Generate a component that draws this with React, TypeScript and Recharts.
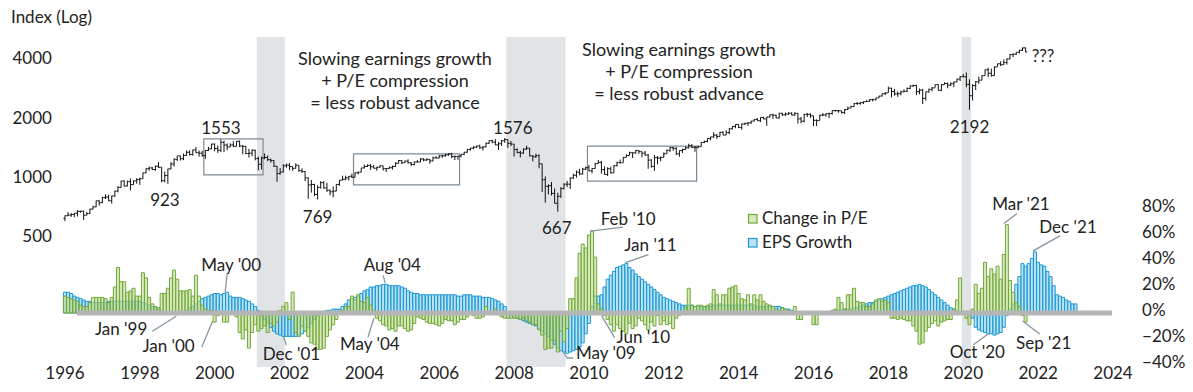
import React from 'react';
import {
  ComposedChart,
  Bar,
  XAxis,
  YAxis,
  ReferenceArea,
  ReferenceLine,
  ReferenceDot,
} from 'recharts';

// S&P 500 monthly bars, Jan 1996 - Sep 2021 (open = previous month's close)
const spxDec1995Close = 615.9;
const spxClose = [
  636.0, 640.4, 645.5, 654.2, 669.1, 670.6, 639.9, 652.0, 687.3, 705.3, 757.0, 740.7,
  786.2, 790.8, 757.1, 801.3, 848.3, 885.1, 954.3, 899.5, 947.3, 914.6, 955.4, 970.4,
  980.3, 1049.3, 1101.8, 1111.8, 1090.8, 1133.8, 1120.7, 957.3, 1017.0, 1098.7, 1163.6, 1229.2,
  1279.6, 1238.3, 1286.4, 1335.2, 1301.8, 1372.7, 1328.7, 1320.4, 1282.7, 1362.9, 1388.9, 1469.3,
  1394.5, 1366.4, 1498.6, 1452.4, 1420.6, 1454.6, 1430.8, 1517.7, 1436.5, 1429.4, 1315.2, 1320.3,
  1366.0, 1239.9, 1160.3, 1249.5, 1255.8, 1224.4, 1211.2, 1133.6, 1040.9, 1059.8, 1139.5, 1148.1,
  1130.2, 1106.7, 1147.4, 1076.9, 1067.1, 989.8, 911.6, 916.1, 815.3, 885.8, 936.3, 879.8,
  855.7, 841.2, 848.2, 916.9, 963.6, 974.5, 990.3, 1008.0, 996.0, 1050.7, 1058.2, 1111.9,
  1131.1, 1144.9, 1126.2, 1107.3, 1120.7, 1140.8, 1101.7, 1104.2, 1114.6, 1130.2, 1173.8, 1211.9,
  1181.3, 1203.6, 1180.6, 1156.9, 1191.5, 1191.3, 1234.2, 1220.3, 1228.8, 1207.0, 1249.5, 1248.3,
  1280.1, 1280.7, 1294.8, 1310.6, 1270.1, 1270.2, 1276.7, 1303.8, 1335.9, 1377.9, 1400.6, 1418.3,
  1438.2, 1406.8, 1420.9, 1482.4, 1530.6, 1503.4, 1455.3, 1474.0, 1526.8, 1549.4, 1481.1, 1468.4,
  1378.6, 1330.6, 1322.7, 1385.6, 1400.4, 1280.0, 1267.4, 1282.8, 1166.4, 968.8, 896.2, 903.3,
  825.9, 735.1, 797.9, 872.8, 919.1, 919.3, 987.5, 1020.6, 1057.1, 1036.2, 1095.6, 1115.1,
  1073.9, 1104.5, 1169.4, 1186.7, 1089.4, 1030.7, 1101.6, 1049.3, 1141.2, 1183.3, 1180.6, 1257.6,
  1286.1, 1327.2, 1325.8, 1363.6, 1345.2, 1320.6, 1292.3, 1218.9, 1131.4, 1253.3, 1247.0, 1257.6,
  1312.4, 1365.7, 1408.5, 1397.9, 1310.3, 1362.2, 1379.3, 1406.6, 1440.7, 1412.2, 1416.2, 1426.2,
  1498.1, 1514.7, 1569.2, 1597.6, 1630.7, 1606.3, 1685.7, 1633.0, 1681.6, 1756.5, 1805.8, 1848.4,
  1782.6, 1859.5, 1872.3, 1883.9, 1923.6, 1960.2, 1930.7, 2003.4, 1972.3, 2018.1, 2067.6, 2058.9,
  1995.0, 2104.5, 2067.9, 2085.5, 2107.4, 2063.1, 2104.0, 1972.2, 1920.0, 2079.4, 2080.4, 2043.9,
  1940.2, 1932.2, 2059.7, 2065.3, 2096.9, 2098.9, 2173.6, 2170.9, 2168.3, 2126.2, 2199.0, 2238.8,
  2278.9, 2363.6, 2362.7, 2384.2, 2411.8, 2423.4, 2470.3, 2471.7, 2519.4, 2575.3, 2647.6, 2673.6,
  2823.8, 2713.8, 2640.9, 2648.1, 2705.3, 2718.4, 2816.3, 2901.5, 2914.0, 2711.7, 2760.2, 2506.9,
  2704.1, 2784.5, 2834.4, 2945.8, 2752.1, 2941.8, 2980.4, 2926.5, 2976.7, 3037.6, 3141.0, 3230.8,
  3225.5, 2954.2, 2584.6, 2912.4, 3044.3, 3100.3, 3271.1, 3500.3, 3363.0, 3270.0, 3621.6, 3756.1,
  3714.2, 3811.2, 3972.9, 4181.2, 4204.1, 4297.5, 4395.3, 4522.7, 4307.5,
];
const spxHigh = [
  636, 664, 656, 657, 680, 673, 675, 665, 690, 714, 758, 761,
  794, 817, 814, 804, 851, 899, 957, 961, 960, 983, 960, 986,
  992, 1050, 1106, 1130, 1122, 1141, 1190, 1122, 1066, 1102, 1193, 1245,
  1280, 1284, 1316, 1362, 1368, 1376, 1421, 1363, 1358, 1373, 1423, 1474,
  1479, 1445, 1553, 1528, 1481, 1482, 1518, 1520, 1531, 1455, 1439, 1390,
  1383, 1377, 1268, 1269, 1316, 1287, 1239, 1218, 1135, 1110, 1163, 1173,
  1176, 1131, 1173, 1147, 1106, 1070, 994, 965, 924, 907, 952, 954,
  935, 864, 895, 919, 965, 1015, 1016, 1011, 1040, 1054, 1063, 1112,
  1155, 1159, 1163, 1150, 1128, 1146, 1141, 1109, 1132, 1143, 1188, 1218,
  1217, 1212, 1229, 1192, 1200, 1219, 1246, 1245, 1243, 1234, 1270, 1276,
  1295, 1297, 1310, 1318, 1326, 1285, 1280, 1306, 1340, 1389, 1407, 1431,
  1441, 1461, 1438, 1498, 1535, 1541, 1556, 1503, 1539, 1576, 1553, 1524,
  1471, 1396, 1359, 1397, 1440, 1404, 1292, 1314, 1304, 1167, 1007, 919,
  944, 875, 832, 888, 930, 956, 996, 1040, 1080, 1101, 1113, 1130,
  1150, 1112, 1180, 1220, 1205, 1132, 1120, 1129, 1148, 1196, 1227, 1263,
  1303, 1344, 1332, 1369, 1371, 1346, 1357, 1308, 1230, 1293, 1277, 1269,
  1334, 1378, 1420, 1422, 1416, 1364, 1392, 1426, 1475, 1470, 1434, 1448,
  1504, 1530, 1570, 1598, 1687, 1654, 1698, 1709, 1730, 1775, 1813, 1849,
  1850, 1867, 1884, 1897, 1925, 1968, 1991, 2005, 2019, 2019, 2075, 2094,
  2072, 2120, 2118, 2126, 2135, 2130, 2133, 2113, 2021, 2094, 2116, 2105,
  2045, 1963, 2073, 2111, 2103, 2121, 2178, 2194, 2188, 2169, 2214, 2278,
  2301, 2371, 2401, 2398, 2419, 2454, 2484, 2491, 2520, 2582, 2658, 2695,
  2873, 2835, 2801, 2718, 2742, 2791, 2848, 2916, 2941, 2940, 2816, 2800,
  2708, 2813, 2861, 2950, 2954, 2965, 3028, 3014, 3022, 3050, 3154, 3248,
  3338, 3394, 3136, 2955, 3068, 3233, 3280, 3514, 3588, 3550, 3646, 3760,
  3870, 3950, 3995, 4219, 4238, 4302, 4429, 4538, 4546,
];
const spxLow = [
  597, 633, 627, 625, 631, 658, 605, 639, 649, 685, 703, 716,
  737, 773, 756, 733, 793, 836, 884, 893, 896, 855, 914, 925,
  912, 979, 1046, 1076, 1084, 1075, 1114, 940, 939, 923, 1094, 1130,
  1205, 1212, 1218, 1283, 1287, 1282, 1328, 1268, 1268, 1234, 1354, 1386,
  1350, 1326, 1339, 1339, 1366, 1420, 1417, 1431, 1419, 1305, 1307, 1255,
  1274, 1215, 1081, 1091, 1232, 1203, 1183, 1124, 945, 1026, 1054, 1114,
  1081, 1074, 1106, 1063, 1048, 953, 775, 833, 800, 769, 872, 872,
  840, 806, 789, 847, 902, 963, 962, 960, 990, 995, 1031, 1058,
  1106, 1124, 1087, 1107, 1076, 1113, 1078, 1060, 1102, 1091, 1128, 1173,
  1164, 1180, 1171, 1137, 1147, 1188, 1192, 1201, 1205, 1168, 1201, 1246,
  1245, 1253, 1268, 1280, 1245, 1219, 1224, 1261, 1290, 1327, 1361, 1385,
  1403, 1389, 1364, 1416, 1476, 1484, 1452, 1371, 1439, 1490, 1406, 1435,
  1270, 1317, 1257, 1313, 1373, 1272, 1200, 1248, 1107, 840, 741, 815,
  805, 735, 667, 783, 866, 888, 869, 979, 992, 1020, 1029, 1085,
  1071, 1045, 1105, 1170, 1040, 1028, 1011, 1040, 1049, 1131, 1174, 1186,
  1257, 1289, 1249, 1312, 1311, 1259, 1283, 1101, 1114, 1075, 1158, 1202,
  1259, 1312, 1341, 1357, 1291, 1266, 1325, 1378, 1396, 1403, 1343, 1398,
  1426, 1485, 1501, 1536, 1581, 1560, 1605, 1627, 1633, 1646, 1746, 1768,
  1771, 1738, 1834, 1815, 1860, 1915, 1930, 1904, 1964, 1821, 2001, 1973,
  1988, 1981, 2040, 2048, 2067, 2056, 2044, 1867, 1872, 1893, 2019, 1993,
  1812, 1810, 1938, 2034, 2025, 1992, 2074, 2148, 2119, 2097, 2084, 2187,
  2245, 2271, 2322, 2328, 2348, 2405, 2407, 2418, 2446, 2520, 2566, 2605,
  2683, 2533, 2586, 2553, 2594, 2698, 2699, 2796, 2864, 2603, 2631, 2347,
  2444, 2681, 2722, 2848, 2750, 2729, 2952, 2822, 2892, 2856, 3037, 3070,
  3214, 2855, 2192, 2447, 2767, 2966, 3101, 3280, 3210, 3234, 3268, 3633,
  3663, 3705, 3723, 3955, 4056, 4164, 4233, 4368, 4305,
];

// Year-over-year change in P/E, %, Jan 1996 - Sep 2021
const peChange = [
  13, 12, 11, 10, 9, 6, 5, 5, 8, 12, 12, 12,
  12, 11, 8, 12, 20, 35, 24, 24, 16, 17, 19, 13,
  13, 31, 27, 12, 7, 5, 4, 15, 15, 19, 27, 33,
  26, 17, 17, 17, 18, 13, 29, 13, 6, 3, 2, 2,
  -7, -2, 0, -7, -7, 1, 0, -3, -15, -20, -13, -27,
  -15, -9, -14, -12, -10, -15, -8, -10, -7, 2, 5, 8,
  -5, 16, -15, -18, -10, -14, -18, -23, -24, -28, -28, -27,
  -18, -13, -9, -5, 0, 2, 5, 5, 13, 10, 14, 9,
  8, 12, 6, 2, -4, -6, -9, -10, -13, -12, -14, -10,
  -10, -12, -14, -13, -8, -3, -4, -5, -7, -8, -8, -9,
  -10, -8, -5, -6, -6, -9, -7, -5, -5, -3, -1, -2,
  -4, -4, -3, 5, 0, 0, 3, 1, -3, -4, -4, -4,
  -4, -4, -5, -4, -6, -7, -9, -9, -13, -17, -28, -27,
  -27, -21, -30, -14, -22, -12, 11, 11, 27, 46, 53, 50,
  60, 63, 43, 7, 3, -2, -5, -9, -14, -9, -12, -14,
  -16, -8, -12, -10, -4, -6, -9, -13, -7, -10, -2, -9,
  -6, -9, -8, -12, -4, -2, -1, 4, 19, 6, 5, 6,
  6, 5, 6, 7, 18, 14, 7, 14, 14, 19, 20, 21,
  15, 11, 10, 14, 7, 14, 10, 14, 9, 7, 6, 5,
  3, 2, 4, 3, 2, 1, 5, -5, -5, 1, 0, -1,
  -9, -9, 0, 0, 1, 1, 2, 3, 12, 8, 3, 14,
  14, 19, 9, 8, 8, 5, 5, 7, 10, 11, 9, 10,
  8, -4, -4, -5, -4, -5, -6, -6, -10, -14, -24, -23,
  -14, -11, -8, -6, -10, -7, -6, -5, -5, 3, 10, 27,
  0, -4, -9, 3, 22, 15, 19, 39, 28, 34, 30, 36,
  26, 45, 68, 25, 16, 8, 5, -2, -7,
];

// Year-over-year EPS growth, %, Jan 1996 - Jan 2023
const epsGrowth = [
  16, 16, 15, 13, 12, 11, 10, 9, 9, 8, 8, 8,
  8, 8, 9, 9, 9, 9, 9, 9, 9, 9, 9, 9,
  9, 8, 7, 6, 5, 4, 3, 2, 1, 1, 0, -1,
  -1, 0, 1, 2, 4, 5, 7, 9, 11, 12, 13, 14,
  15, 15, 14, 15, 16, 13, 12, 12, 12, 11, 10, 9,
  7, 5, 2, -2, -5, -8, -11, -14, -16, -17, -18, -18,
  -18, -18, -18, -17, -16, -14, -11, -8, -5, -2, 1, 1,
  2, 2, 3, 3, 3, 5, 7, 10, 11, 12, 13, 15,
  17, 18, 20, 20, 21, 21, 22, 22, 21, 21, 21, 21,
  20, 19, 17, 16, 15, 15, 14, 14, 14, 14, 14, 14,
  14, 14, 14, 14, 14, 14, 13, 13, 14, 14, 14, 13,
  13, 13, 12, 12, 12, 11, 10, 9, 7, 5, 1, -2,
  -3, -4, -5, -6, -7, -8, -9, -10, -12, -14, -16, -18,
  -21, -24, -27, -29, -30, -31, -30, -29, -28, -26, -23, -16,
  -8, 5, 13, 13, 14, 20, 26, 29, 32, 35, 36, 37,
  38, 35, 33, 30, 28, 26, 24, 22, 20, 18, 16, 14,
  12, 11, 10, 9, 8, 7, 6, 6, 6, 6, 5, 5,
  5, 5, 5, 5, 6, 6, 6, 6, 6, 6, 6, 6,
  6, 6, 6, 6, 6, 6, 5, 5, 5, 5, 5, 5,
  5, 5, 4, 3, 3, 2, 1, 1, 0, 0, -1, -1,
  -1, -1, -1, 0, 0, 1, 1, 2, 2, 2, 3, 3,
  3, 4, 4, 5, 6, 7, 8, 8, 9, 10, 11, 12,
  13, 14, 15, 16, 17, 18, 19, 20, 21, 21, 22, 21,
  20, 18, 16, 14, 12, 10, 8, 6, 4, 3, 2, 1,
  0, -1, -2, -4, -11, -13, -14, -15, -16, -16, -17, -16,
  -15, -11, -2, 3, 7, 22, 28, 38, 36, 38, 42, 47,
  39, 37, 36, 32, 28, 21, 14, 13, 12, 10, 9, 7,
  7,
];

const yearTicks = [1996, 1998, 2000, 2002, 2004, 2006, 2008, 2010, 2012, 2014, 2016, 2018, 2020, 2022, 2024];
const indexTicks = [500, 1000, 2000, 4000];
const pctTicks = [-40, -20, 0, 20, 40, 60, 80];
const recessions = [
  ['2001-03', '2001-11'],
  ['2007-11', '2009-05'],
  ['2020-01', '2020-03'],
];
const boxes = [
  { from: '1999-10', to: '2001-04', lo: 1024, hi: 1560 },
  { from: '2003-10', to: '2006-07', lo: 911, hi: 1309 },
  { from: '2010-01', to: '2012-11', lo: 954, hi: 1436 },
];

const FIRST_YEAR = 1996;
const MONTHS = (2024 - FIRST_YEAR) * 12 + 1;
const monthKey = (k: number) =>
  `${FIRST_YEAR + Math.floor(k / 12)}-${String((k % 12) + 1).padStart(2, '0')}`;

const rows = Array.from({ length: MONTHS }, (_, k) => {
  const row: any = { month: monthKey(k) };
  if (k < spxClose.length) {
    row.o = k === 0 ? spxDec1995Close : spxClose[k - 1];
    row.h = spxHigh[k];
    row.l = spxLow[k];
    row.c = spxClose[k];
    row.range = [spxLow[k], spxHigh[k]];
  }
  if (k < peChange.length) row.pe = peChange[k];
  if (k < epsGrowth.length) row.eps = epsGrowth[k];
  return row;
});
const rowOf = (m: string) => rows.find((r) => r.month === m);

const levelNotes = [
  { month: '1998-10', field: 'l', tx: -3, ty: 16 },
  { month: '2000-03', field: 'h', tx: 0, ty: -11 },
  { month: '2002-10', field: 'l', tx: 0, ty: 18 },
  { month: '2007-10', field: 'h', tx: 8, ty: -10 },
  { month: '2009-03', field: 'l', tx: -1, ty: 16 },
  { month: '2020-03', field: 'l', tx: 0, ty: 17 },
  { month: '2021-09', field: 'c', tx: 6, ty: 4, text: '???', anchor: 'start' },
];

const barNotes = [
  { month: '1999-01', series: 'eps', text: "Jan '99", line: [[-1, 2], [-25, 17]], tx: -30, ty: 15, anchor: 'end' },
  { month: '2000-01', series: 'pe', text: "Jan '00", line: [[-2, -1], [-13, 25]], tx: -20, ty: 24, anchor: 'end' },
  { month: '2000-05', series: 'eps', text: "May '00", line: [[-2, 0], [0, -19]], tx: 4, ty: -27 },
  { month: '2001-12', series: 'eps', text: "Dec '01", line: [[-3, 0], [0, 9]], tx: 5, ty: 17.5 },
  { month: '2004-05', series: 'pe', text: "May '04", line: [[-3, 0], [-9, 19]], tx: -7, ty: 26 },
  { month: '2004-08', series: 'eps', text: "Aug '04", line: [[-1, -1], [-3, -9]], tx: 6, ty: -19 },
  { month: '2009-05', series: 'eps', text: "May '09", line: [[-2, -2], [3, 6], [9, 6]], tx: 12, ty: 1.5, anchor: 'start' },
  { month: '2010-02', series: 'pe', text: "Feb '10", line: [[-2, 0], [31, -4]], tx: 36, ty: -12 },
  { month: '2010-06', series: 'pe', text: "Jun '10", line: [[-3, 0], [10, 22]], tx: 12, ty: 21, anchor: 'start' },
  { month: '2011-01', series: 'eps', text: "Jan '11", line: [[-1, -1], [22, -9]], tx: 24, ty: -19 },
  { month: '2020-10', series: 'eps', text: "Oct '20", line: [[-3, 0], [-18, 11]], tx: -14, ty: 18 },
  { month: '2021-03', series: 'pe', text: "Mar '21", line: [[-3, -1], [10, -11]], tx: 14, ty: -21 },
  { month: '2021-09', series: 'pe', text: "Sep '21", line: [[-3, -1], [14, 12]], tx: 18, ty: 21 },
  { month: '2021-12', series: 'eps', text: "Dec '21", line: [[-2, -1], [25, -16]], tx: 33, ty: -25 },
];

const FONT = 'Lato, "Open Sans", sans-serif';
const INK = '#222';
const LEADER = '#8795a0';
const GREEN = '#72a83a';
const GREEN_FILL = '#bcd98f';
const BLUE = '#1a98d5';
const BLUE_FILL = '#8fd0ee';

function OhlcBar(props: any) {
  const { x, y, width, height, payload } = props;
  if (!payload || payload.h == null || !Number.isFinite(y) || !Number.isFinite(height)) return <g />;
  const top = Math.min(y, y + height);
  const bottom = Math.max(y, y + height);
  const span = Math.log(payload.h) - Math.log(payload.l);
  const at = (v: number) => top + ((Math.log(payload.h) - Math.log(v)) / span) * (bottom - top);
  const cx = x + width / 2;
  return (
    <g stroke="#111" strokeWidth={1}>
      <line x1={cx} x2={cx} y1={top} y2={bottom} />
      <line x1={cx - 1.5} x2={cx} y1={at(payload.o)} y2={at(payload.o)} />
      <line x1={cx} x2={cx + 1.5} y1={at(payload.c)} y2={at(payload.c)} />
    </g>
  );
}

function Level({ cx, cy, note, text }: any) {
  if (!Number.isFinite(cx) || !Number.isFinite(cy)) return <g />;
  return (
    <text x={cx + note.tx} y={cy + note.ty} dy="0.35em" textAnchor={note.anchor ?? 'middle'}
      fontSize={17} fontFamily={FONT} fill={INK}>
      {text}
    </text>
  );
}

function Callout({ cx, cy, note }: any) {
  if (!Number.isFinite(cx) || !Number.isFinite(cy)) return <g />;
  const pts = note.line.map(([dx, dy]: number[]) => `${cx + dx},${cy + dy}`).join(' ');
  return (
    <g>
      <polyline points={pts} fill="none" stroke={LEADER} strokeWidth={1.3} />
      <text x={cx + note.tx} y={cy + note.ty} dy="0.35em" textAnchor={note.anchor ?? 'middle'}
        fontSize={17} fontFamily={FONT} fill={INK}>
        {note.text}
      </text>
    </g>
  );
}

function ZeroLine(props: any) {
  const { x1, x2, y1 } = props;
  if (!Number.isFinite(x1) || !Number.isFinite(y1)) return <g />;
  return <line x1={x1 - 2.5} x2={x2 + 13.5} y1={y1} y2={y1} stroke="#b5b5b5" strokeWidth={5} />;
}

const yearKeys = yearTicks.map((y) => `${y}-01`);

export default function App() {
  return (
    <div style={{ position: 'relative', width: 1193, height: 392, fontFamily: FONT }}>
      <style>{'body{margin:0}'}</style>
      <ComposedChart
        width={1193}
        height={392}
        data={rows}
        margin={{ top: 37, right: 0, bottom: 0, left: 0 }}
        barCategoryGap={0}
        barGap={0}
      >
        <XAxis
          xAxisId="ohlc"
          dataKey="month"
          ticks={yearKeys}
          interval={0}
          height={25}
          tickSize={0}
          tickMargin={0}
          axisLine={false}
          tickLine={false}
          tick={(p: any) => (
            <text x={p.x} y={p.y + 12} textAnchor="middle" fontSize={17} fontFamily={FONT} fill={INK}>
              {String(p.payload.value).slice(0, 4)}
            </text>
          )}
        />
        <XAxis xAxisId="eps" dataKey="month" hide height={0} />
        <XAxis xAxisId="pe" dataKey="month" hide height={0} />
        <YAxis
          yAxisId="idx"
          orientation="left"
          scale="log"
          domain={[108.5, 5137]}
          allowDataOverflow
          ticks={indexTicks}
          width={63.44}
          tickSize={0}
          tickMargin={0}
          axisLine={false}
          tickLine={false}
          tick={(p: any) => (
            <text x={p.x - 11.5} y={p.y} dy="0.35em" textAnchor="end" fontSize={17} fontFamily={FONT} fill={INK}>
              {p.payload.value}
            </text>
          )}
        />
        <YAxis
          yAxisId="pct"
          orientation="right"
          type="number"
          domain={[-41.54, 212.3]}
          allowDataOverflow
          ticks={pctTicks}
          width={78.44}
          tickSize={0}
          tickMargin={0}
          axisLine={false}
          tickLine={false}
          tick={(p: any) => (
            <text x={p.x + 27.5} y={p.y - 3} dy="0.35em" textAnchor="start" fontSize={17} fontFamily={FONT} fill={INK}>
              {`${p.payload.value < 0 ? '\u2212' : ''}${Math.abs(p.payload.value)}%`}
            </text>
          )}
        />

        {recessions.map(([a, b]) => (
          <ReferenceArea key={a} xAxisId="ohlc" yAxisId="idx" x1={a} x2={b} fill="#e1e4e7" fillOpacity={1} stroke="none" />
        ))}
        {boxes.map((bx) => (
          <ReferenceArea key={bx.from} xAxisId="ohlc" yAxisId="idx" x1={bx.from} x2={bx.to} y1={bx.lo} y2={bx.hi}
            fill="none" stroke="#7d8b95" strokeWidth={1.2} />
        ))}

        <Bar xAxisId="eps" yAxisId="pct" dataKey="eps" fill={BLUE_FILL} fillOpacity={0.6} stroke={BLUE} strokeWidth={1} isAnimationActive={false} />
        <Bar xAxisId="pe" yAxisId="pct" dataKey="pe" fill={GREEN_FILL} fillOpacity={0.6} stroke={GREEN} strokeWidth={1} isAnimationActive={false} />
        <Bar xAxisId="ohlc" yAxisId="idx" dataKey="range" shape={(p: any) => <OhlcBar {...p} />} isAnimationActive={false} />

        <ReferenceLine xAxisId="pe" yAxisId="pct" y={0} stroke="#b5b5b5" strokeWidth={5} shape={(p: any) => <ZeroLine {...p} />} />

        {levelNotes.map((n) => {
          const v = rowOf(n.month)[n.field];
          return (
            <ReferenceDot key={n.month} xAxisId="ohlc" yAxisId="idx" x={n.month} y={v} r={0}
              shape={(p: any) => <Level {...p} note={n} text={n.text ?? String(Math.round(v))} />} />
          );
        })}
        {barNotes.map((n) => (
          <ReferenceDot key={n.text} xAxisId={n.series} yAxisId="pct" x={n.month} y={rowOf(n.month)[n.series]} r={0}
            shape={(p: any) => <Callout {...p} note={n} />} />
        ))}
      </ComposedChart>

      <svg width={1193} height={392} style={{ position: 'absolute', left: 0, top: 0, pointerEvents: 'none' }}
        fontFamily={FONT} fill={INK}>
        <text x={11} y={23} fontSize={17}>Index (Log)</text>
        <text x={395} textAnchor="middle" fontSize={18}>
          <tspan x={395} y={64.5}>Slowing earnings growth</tspan>
          <tspan x={395} y={86.5}>+ P/E compression</tspan>
          <tspan x={395} y={108.5}>= less robust advance</tspan>
        </text>
        <text x={679} textAnchor="middle" fontSize={18}>
          <tspan x={679} y={56}>Slowing earnings growth</tspan>
          <tspan x={679} y={78}>+ P/E compression</tspan>
          <tspan x={679} y={100}>= less robust advance</tspan>
        </text>
        <rect x={748.5} y={214.5} width={8.5} height={8.5} fill="#d7e8bc" stroke={GREEN} strokeWidth={1.2} />
        <text x={762} y={223.5} fontSize={17}>Change in P/E</text>
        <rect x={748.5} y={238.5} width={8.5} height={8.5} fill="#bce3f5" stroke={BLUE} strokeWidth={1.2} />
        <text x={762} y={247.5} fontSize={17}>EPS Growth</text>
      </svg>
    </div>
  );
}
